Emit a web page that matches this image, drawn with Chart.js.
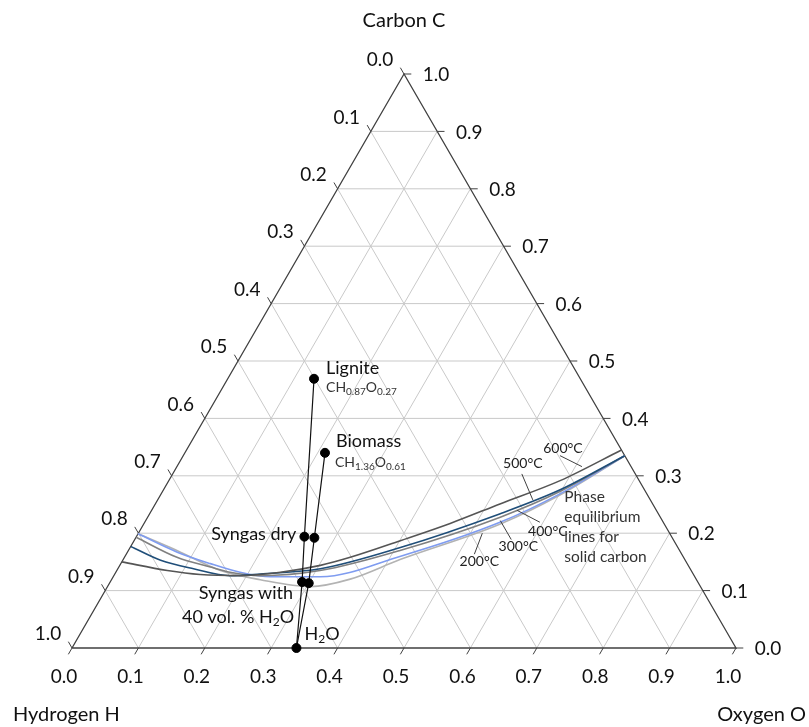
<!DOCTYPE html>
<html>
<head>
<meta charset="utf-8">
<script src="https://cdn.jsdelivr.net/npm/chart.js@4.4.0/dist/chart.umd.min.js"></script>
<style>
  html, body { margin: 0; padding: 0; background: #fff; }
</style>
</head>
<body>
<canvas id="graph" width="809" height="727"></canvas>
<script>
// ------------ data : mole fractions, C and O (H = 1 - C - O) ------------

var tickValues = [0.0, 0.1, 0.2, 0.3, 0.4, 0.5, 0.6, 0.7, 0.8, 0.9, 1.0];
var tickLabels = ["0.0", "0.1", "0.2", "0.3", "0.4", "0.5", "0.6", "0.7", "0.8", "0.9", "1.0"];

// fuels and gases : 0 lignite, 1 biomass, 2-3 syngas dry, 4-5 syngas wet, 6 water
var pointC = [0.469, 0.340, 0.194, 0.192, 0.115, 0.113, 0.000];
var pointO = [0.130, 0.211, 0.253, 0.269, 0.289, 0.300, 0.338];
var lignitePath = [0, 2, 4, 6];
var biomassPath = [1, 3, 5, 6];

// phase equilibrium lines for solid carbon
var curveNames = ["600°C", "500°C", "400°C", "300°C", "200°C"];
var curve600C = [0.150, 0.135, 0.128, 0.126, 0.132, 0.144, 0.158, 0.187, 0.217, 0.251, 0.292, 0.345];
var curve600O = [0.000, 0.076, 0.129, 0.190, 0.248, 0.302, 0.340, 0.401, 0.461, 0.519, 0.590, 0.655];
var curve500C = [0.177, 0.153, 0.138, 0.126, 0.129, 0.138, 0.175, 0.234, 0.276, 0.335];
var curve500O = [0.000, 0.057, 0.114, 0.175, 0.219, 0.305, 0.407, 0.528, 0.598, 0.665];
var curve400C = [0.193, 0.158, 0.141, 0.132, 0.126, 0.135, 0.170, 0.228, 0.273, 0.335];
var curve400O = [0.000, 0.079, 0.138, 0.172, 0.220, 0.306, 0.409, 0.531, 0.599, 0.665];
var curve300C = [0.199, 0.167, 0.147, 0.132, 0.124, 0.124, 0.160, 0.219, 0.269, 0.335];
var curve300O = [0.000, 0.075, 0.135, 0.187, 0.237, 0.312, 0.415, 0.535, 0.601, 0.665];
var curve200C = [0.199, 0.170, 0.135, 0.119, 0.107, 0.120, 0.154, 0.216, 0.267, 0.335];
var curve200O = [0.000, 0.073, 0.156, 0.224, 0.305, 0.359, 0.417, 0.537, 0.602, 0.665];

// where the temperature leaders touch the curves
var leaderC = [0.316, 0.258, 0.240, 0.222, 0.200];
var leaderO = [0.610, 0.565, 0.550, 0.534, 0.518];

// --------------- helpers ---------------------

function tern(c, o) {
  return { x: o + c / 2, y: c };
}

function line(pts, color, width, order) {
  return {
    data: pts,
    showLine: true,
    borderColor: color,
    borderWidth: width,
    pointRadius: 0,
    fill: false,
    clip: false,
    order: order,
  };
}

var datasets = [];

// --------------- grid --------------------------

for (var i = 1; i < tickValues.length - 1; i++) {
  var v = tickValues[i];
  datasets.push(line([tern(v, 0), tern(v, 1 - v)], "#c9c9c9", 1, 6));
  datasets.push(line([tern(0, v), tern(1 - v, v)], "#c9c9c9", 1, 6));
  datasets.push(line([tern(0, 1 - v), tern(1 - v, 0)], "#c9c9c9", 1, 6));
}

// --------------- triangle + ticks -------------

datasets.push(line([tern(0, 0), tern(1, 0), tern(0, 1), tern(0, 0)], "#404040", 1.3, 5));

var d = 0.011;
for (var i = 0; i < tickValues.length; i++) {
  var v = tickValues[i];
  datasets.push(line([tern(1 - v, 0), tern(1 - v + d, -d)], "#404040", 1, 5));
  datasets.push(line([tern(v, 1 - v), tern(v, 1 - v + d)], "#404040", 1, 5));
  datasets.push(line([tern(0, v), tern(-d, v)], "#404040", 1, 5));
}

// --------------- equilibrium curves -----------

function curve(cs, os, color, order) {
  var pts = [];
  for (var k = 0; k < cs.length; k++) pts.push(tern(cs[k], os[k]));
  var ds = line(pts, color, 1.6, order);
  ds.cubicInterpolationMode = "monotone";
  return ds;
}

datasets.push(curve(curve200C, curve200O, "#b3b3b3", 4));
datasets.push(curve(curve300C, curve300O, "#7f9cf0", 3.9));
datasets.push(curve(curve400C, curve400O, "#808080", 3.8));
datasets.push(curve(curve500C, curve500O, "#1f4e79", 3.7));
datasets.push(curve(curve600C, curve600O, "#555555", 3.6));

// --------------- paths + points ---------------

function path(idx) {
  var pts = [];
  for (var k = 0; k < idx.length; k++) pts.push(tern(pointC[idx[k]], pointO[idx[k]]));
  return pts;
}
datasets.push(line(path(lignitePath), "#111111", 1.2, 1));
datasets.push(line(path(biomassPath), "#111111", 1.2, 1));

var dots = [];
for (var k = 0; k < pointC.length; k++) dots.push(tern(pointC[k], pointO[k]));
datasets.push({
  data: dots,
  showLine: false,
  pointRadius: 4.5,
  pointBackgroundColor: "#000",
  pointBorderColor: "#000",
  clip: false,
  order: 0,
});

// --------------- texts ------------------------

var FONT = "Lato, 'Open Sans', sans-serif";

function rich(ctx, parts, x, y, align, size, color) {
  var sub = Math.round(size * 0.68);
  var w = 0;
  parts.forEach(function (p) {
    ctx.font = (p[1] ? sub : size) + "px " + FONT;
    w += ctx.measureText(p[0]).width;
  });
  var sx = align === "right" ? x - w : align === "center" ? x - w / 2 : x;
  ctx.fillStyle = color;
  ctx.textAlign = "left";
  ctx.textBaseline = "middle";
  parts.forEach(function (p) {
    ctx.font = (p[1] ? sub : size) + "px " + FONT;
    ctx.fillText(p[0], sx, y + (p[1] ? size * 0.3 : 0));
    sx += ctx.measureText(p[0]).width;
  });
}

var textPlugin = {
  id: "ternaryText",
  afterDatasetsDraw: function (chart) {
    var ctx = chart.ctx;
    var xs = chart.scales.x, ys = chart.scales.y;
    function px(c, o) {
      return { x: xs.getPixelForValue(o + c / 2), y: ys.getPixelForValue(c) };
    }
    ctx.save();

    // tick labels
    for (var i = 0; i < tickValues.length; i++) {
      var v = tickValues[i];
      var a = px(1 - v, 0);
      rich(ctx, [[tickLabels[i]]], a.x - 24, a.y - 14, "center", 19, "#111");
      var b = px(v, 1 - v);
      rich(ctx, [[tickLabels[i]]], b.x + 32, b.y + 1, "center", 19, "#111");
      var c = px(0, v);
      rich(ctx, [[tickLabels[i]]], c.x - 8, c.y + 29, "center", 19, "#111");
    }

    // axis titles
    var top = px(1, 0), hv = px(0, 0), ov = px(0, 1);
    rich(ctx, [["Carbon C"]], top.x, top.y - 53, "center", 20, "#111");
    rich(ctx, [["Hydrogen H"]], hv.x - 59, hv.y + 67, "left", 20, "#111");
    rich(ctx, [["Oxygen O"]], ov.x + 70, ov.y + 67, "right", 20, "#111");

    // point labels
    var lg = px(pointC[0], pointO[0]);
    rich(ctx, [["Lignite"]], lg.x + 12, lg.y - 11, "left", 18, "#111");
    rich(ctx, [["CH"], ["0.87", 1], ["O"], ["0.27", 1]], lg.x + 12, lg.y + 9, "left", 14, "#333");
    var bm = px(pointC[1], pointO[1]);
    rich(ctx, [["Biomass"]], bm.x + 11, bm.y - 12, "left", 18, "#111");
    rich(ctx, [["CH"], ["1.36", 1], ["O"], ["0.61", 1]], bm.x + 10, bm.y + 10, "left", 14, "#333");
    var sd = px(pointC[2], pointO[2]);
    rich(ctx, [["Syngas dry"]], sd.x - 8, sd.y - 2, "right", 18, "#111");
    var sw = px(pointC[4], pointO[4]);
    rich(ctx, [["Syngas with"]], sw.x - 9, sw.y + 11, "right", 18, "#111");
    rich(ctx, [["40 vol. % H"], ["2", 1], ["O"]], sw.x - 8, sw.y + 35, "right", 18, "#111");
    var wa = px(pointC[6], pointO[6]);
    rich(ctx, [["H"], ["2", 1], ["O"]], wa.x + 8, wa.y - 14, "left", 18, "#111");

    // temperature labels with leaders
    var lab = [[-19, -18], [-10, -36], [31, 21], [18, 26], [-3, 28]];
    var lead = [[-22, -11], [-11, -26], [23, 12], [11, 19], [-8, 21]];
    ctx.strokeStyle = "#404040";
    ctx.lineWidth = 1;
    for (var k = 0; k < curveNames.length; k++) {
      var p = px(leaderC[k], leaderO[k]);
      ctx.beginPath();
      ctx.moveTo(p.x, p.y);
      ctx.lineTo(p.x + lead[k][0], p.y + lead[k][1]);
      ctx.stroke();
      rich(ctx, [[curveNames[k]]], p.x + lab[k][0], p.y + lab[k][1], "center", 14, "#222");
    }

    // note
    var note = ["Phase", "equilibrium", "lines for", "solid carbon"];
    var n = px(0.263, 0.610);
    for (var k = 0; k < note.length; k++) {
      rich(ctx, [[note[k]]], n.x, n.y + k * 20, "left", 15.5, "#333");
    }
    ctx.restore();
  },
};

// --------------- chart ------------------------

var chart = new Chart(document.getElementById("graph"), {
  type: "scatter",
  data: { datasets: datasets },
  options: {
    responsive: false,
    animation: false,
    layout: { padding: { left: 72, right: 73, top: 74, bottom: 79 } },
    plugins: { legend: { display: false }, tooltip: { enabled: false } },
    scales: {
      x: { type: "linear", min: 0, max: 1, display: false },
      y: { type: "linear", min: 0, max: 1, display: false },
    },
  },
  plugins: [textPlugin],
});
</script>
</body>
</html>
